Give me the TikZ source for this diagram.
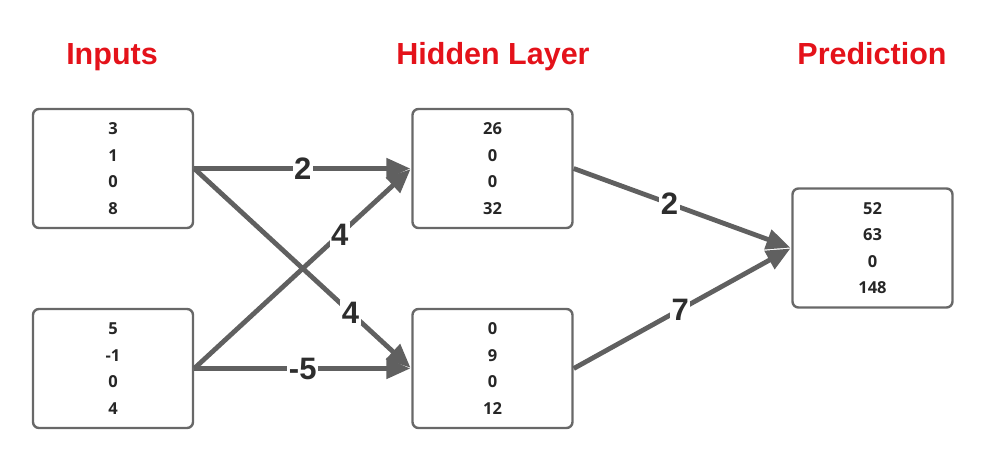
\documentclass[tikz,border=0pt]{standalone}
\usepackage{fontspec}
\setmainfont{Liberation Sans}
\newfontfamily\numfont{Open Sans}
\usetikzlibrary{arrows.meta}
\definecolor{edgegray}{RGB}{96,96,96}
\definecolor{boxgray}{RGB}{104,104,104}
\definecolor{labelink}{RGB}{45,45,45}
\definecolor{titlered}{RGB}{228,18,26}
\tikzset{
  layerbox/.style={draw=boxgray, line width=2.4pt, rounded corners=6pt,
    minimum width=160pt, minimum height=119pt, align=center, inner sep=0pt,
    font=\numfont\bfseries\fontsize{16.5}{26.5}\selectfont, text=black!85},
  title/.style={anchor=base, text=titlered, font=\bfseries\fontsize{30.5}{36}\selectfont},
  weight/.style={line width=4.8pt, draw=edgegray,
    -{Triangle[length=24pt,width=20pt]}, shorten >=1pt},
  wlabel/.style={fill=white, inner sep=1.5pt, text=labelink,
    font=\bfseries\fontsize{31}{36}\selectfont}
}
\begin{document}
\begin{tikzpicture}[x=1pt, y=-1pt]
  \useasboundingbox (0,0) rectangle (995,470);

  % column titles, sharing one baseline
  \node[title] (tin)  at (112,65) {Inputs};
  \node[title] (thid) at (493,65) {Hidden Layer};
  \node[title] (tout) at (872,65) {Prediction};

  % value boxes
  \node[layerbox] (i1) at (113,168.5) {3\\1\\0\\8};
  \node[layerbox] (i2) at (113,368.5) {5\\-1\\0\\4};
  \node[layerbox] (h1) at (492.5,168.5) {26\\0\\0\\32};
  \node[layerbox] (h2) at (492.5,368.5) {0\\9\\0\\12};
  \node[layerbox] (p)  at (872.5,248) {52\\63\\0\\148};

  % weighted connections
  \draw[weight] (i1.east) -- (h1.west) node[wlabel, pos=0.5] {2};
  \draw[weight] (i1.east) -- (h2.west) node[wlabel, pos=0.72] {4};
  \draw[weight] (i2.east) -- (h1.west) node[wlabel, pos=0.67] {4};
  \draw[weight] (i2.east) -- (h2.west) node[wlabel, pos=0.5] {-5};
  \draw[weight] (h1.east) -- (p.west) node[wlabel, pos=0.44] {2};
  \draw[weight] (h2.east) -- (p.west) node[wlabel, pos=0.49] {7};
\end{tikzpicture}
\end{document}
